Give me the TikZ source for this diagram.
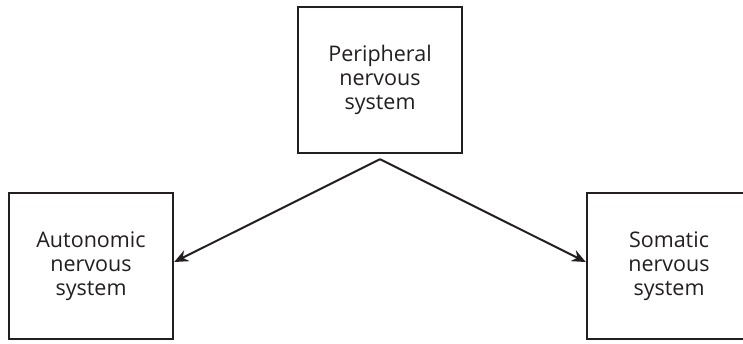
\documentclass[tikz,border=0pt]{standalone}
\usepackage{fontspec}
\setmainfont{Open Sans}
\usepackage{tikz}
\usetikzlibrary{positioning,arrows.meta}
\definecolor{inkdark}{HTML}{231F20}
\tikzset{
  sysbox/.style = {draw=inkdark, line width=2.4pt, fill=white, align=center,
                   minimum width=164pt, minimum height=146pt, inner sep=0pt,
                   text=inkdark, font=\fontsize{21.5}{24}\selectfont},
  branch/.style = {-{Stealth[length=14pt, width=12pt]}, draw=inkdark, line width=2pt},
}
\begin{document}
\begin{tikzpicture}[x=1pt, y=1pt]
  \useasboundingbox (0,0) rectangle (743,343);
  \node[sysbox] (pns) at (380,263) {Peripheral\\ nervous\\ system};
  \node[sysbox] (ans) at (91,77)  {Autonomic\\ nervous\\ system};
  \node[sysbox] (sns) at (669,77) {Somatic\\ nervous\\ system};

  \coordinate[below=5pt of pns.south] (fork);
  \draw[branch] (fork) -- ([yshift=4pt]ans.east);
  \draw[branch] (fork) -- ([yshift=4pt]sns.west);
\end{tikzpicture}
\end{document}
